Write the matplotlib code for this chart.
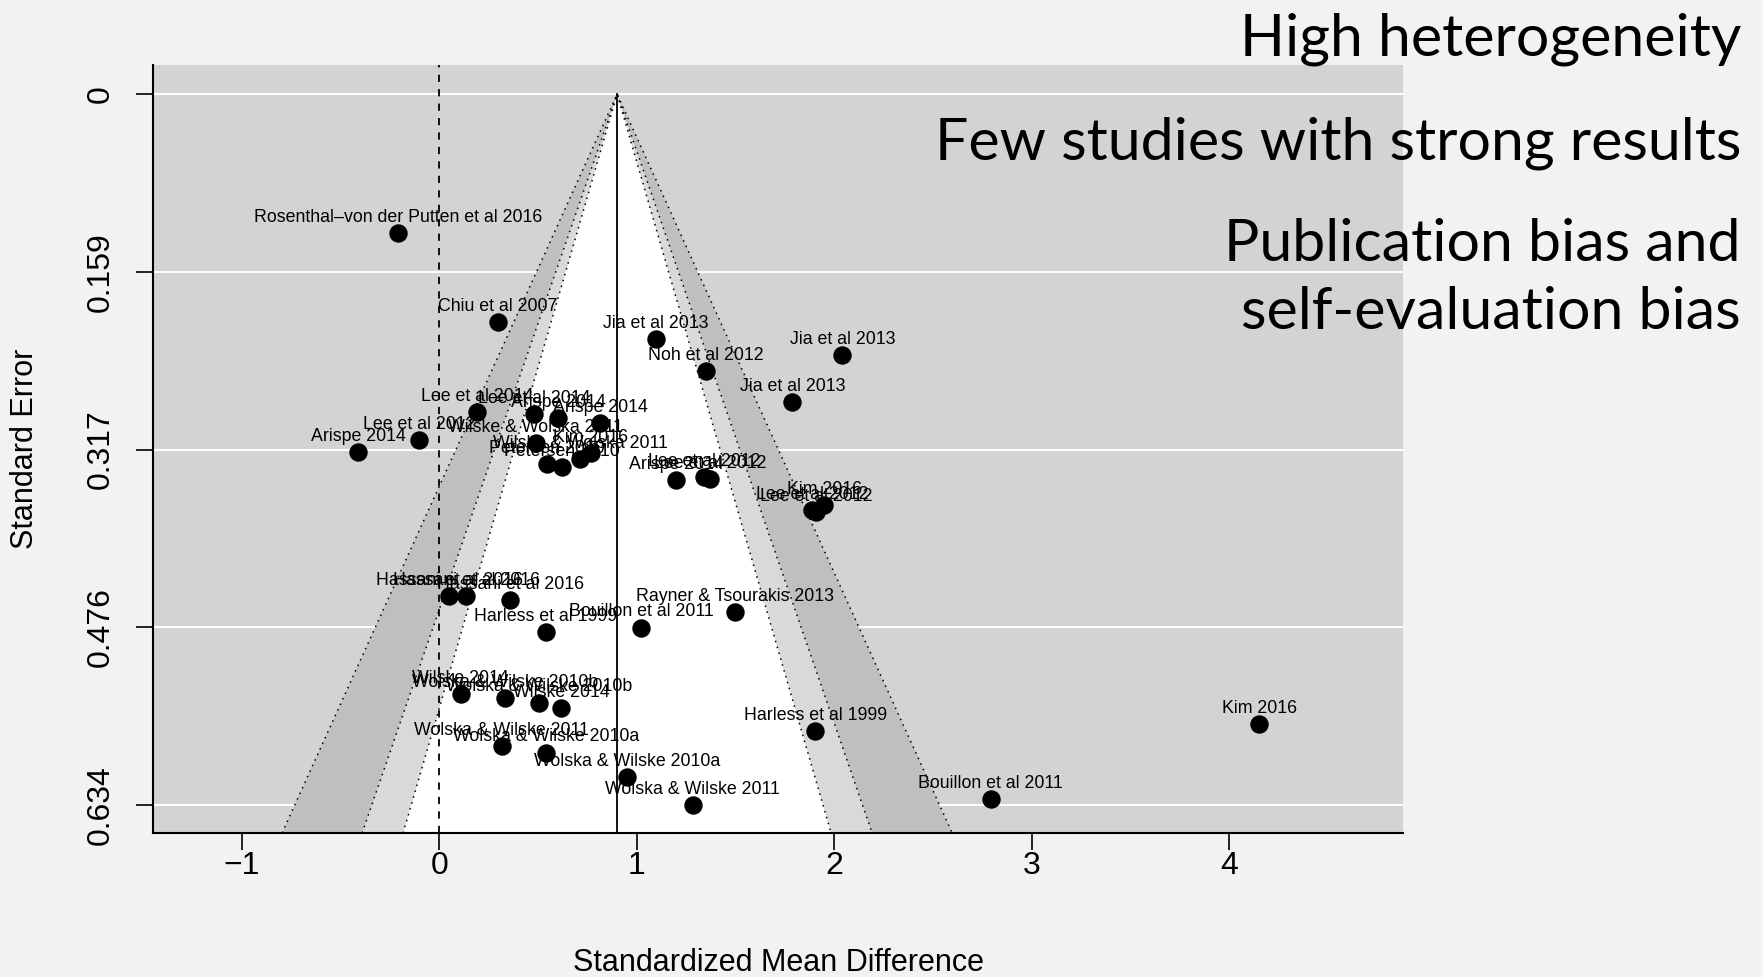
import numpy as np
import matplotlib.pyplot as plt
from matplotlib.transforms import blended_transform_factory

# study labels, standardized mean differences and standard errors
labels = [
    "Rosenthal\u2013von der Putten et al 2016", "Chiu et al 2007",
    "Jia et al 2013", "Jia et al 2013", "Noh et al 2012", "Jia et al 2013",
    "Lee et al 2014", "Lee et al 2012", "Arispe 2014",
    "Lee et al 2014", "Arispe 2014", "Arispe 2014",
    "Wilske & Wolska 2011", "Kim 2016", "Wilske & Wolska 2011",
    "Petersen 2010", "Petersen 2010",
    "Arispe 2014", "Lee et al 2012", "Lee et al 2012",
    "Lee et al 2012", "Lee et al 2012", "Kim 2016",
    "Hassani et al 2016", "Hassani et al 2016", "Hassani et al 2016",
    "Harless et al 1999", "Bouillon et al 2011", "Rayner & Tsourakis 2013",
    "Wilske 2014", "Wolska & Wilske 2010b", "Wolska & Wilske 2010b", "Wilske 2014",
    "Wolska & Wilske 2011", "Wolska & Wilske 2010a", "Wolska & Wilske 2010a",
    "Wolska & Wilske 2011",
    "Harless et al 1999", "Kim 2016", "Bouillon et al 2011",
]
smd = [
    -0.211, 0.295,
    1.096, 2.041, 1.349, 1.788,
    0.189, -0.103, -0.412,
    0.481, 0.602, 0.814,
    0.488, 0.766, 0.712,
    0.544, 0.620,
    1.199, 1.340, 1.371,
    1.886, 1.908, 1.950,
    0.050, 0.135, 0.358,
    0.540, 1.021, 1.499,
    0.108, 0.332, 0.505, 0.616,
    0.316, 0.538, 0.952, 1.283,
    1.904, 4.154, 2.792,
]
se = [
    0.1242, 0.2030,
    0.2187, 0.2327, 0.2470, 0.2744,
    0.2833, 0.3085, 0.3195,
    0.2856, 0.2886, 0.2936,
    0.3115, 0.3198, 0.3257,
    0.3299, 0.3323,
    0.3442, 0.3412, 0.3436,
    0.3709, 0.3724, 0.3665,
    0.4476, 0.4476, 0.4512,
    0.4800, 0.4758, 0.4616,
    0.5353, 0.5383, 0.5427, 0.5472,
    0.5814, 0.5873, 0.6093, 0.6340,
    0.5679, 0.5618, 0.6291,
]
estimate = 0.90
levels = [2.5758, 1.9600, 1.6449]          # 99%, 95%, 90%
shades = ["#bfbfbf", "#d9d9d9", "white"]

se_max = max(se)
yticks = np.linspace(0, se_max, 5)
xticks = [-1, 0, 1, 2, 3, 4]
ylims = (0.659, -0.026)
xlims = (-1.451, 4.881)

notes = ["High heterogeneity", "Few studies with strong results",
         "Publication bias and", "self-evaluation bias"]

plt.rcParams['font.family'] = ['Liberation Sans', 'DejaVu Sans']

fig = plt.figure(figsize=(17.63, 9.77), dpi=100, facecolor="#f2f2f2")
ax = fig.add_axes([0.0868, 0.1474, 0.709, 0.7861])
ax.set_facecolor("lightgray")
ax.set_xlim(*xlims)
ax.set_ylim(*ylims)

for yt in yticks:
    ax.axhline(yt, color="white", lw=1.5, zorder=1)

# funnel regions, outermost first
bot = ylims[0]
for z, col in zip(levels, shades):
    xs = [estimate - z * bot, estimate, estimate + z * bot]
    ys = [bot, 0, bot]
    ax.fill(xs, ys, color=col, lw=0, zorder=2)
for z in levels:
    ax.plot([estimate - z * bot, estimate, estimate + z * bot], [bot, 0, bot],
            color="black", ls=(0, (1, 3)), lw=1.1, zorder=3)

ax.plot([estimate, estimate], [0, bot], color="black", lw=1.3, zorder=3)
ax.axvline(0, color="black", ls=(0, (4, 4)), lw=1.3, zorder=3)

ax.scatter(smd, se, s=150, color="black", zorder=5, clip_on=False)
for lab, x, y in zip(labels, smd, se):
    ax.annotate(lab, (x, y), xytext=(0, 8), textcoords="offset points",
                ha="center", va="baseline", fontsize=12.8, zorder=6)

for side in ["top", "right"]:
    ax.spines[side].set_visible(False)
for side in ["left", "bottom"]:
    ax.spines[side].set_linewidth(1.5)
    ax.spines[side].set_zorder(7)

ax.set_xticks(xticks)
ax.set_xticklabels(["\u22121", "0", "1", "2", "3", "4"])
ax.set_yticks(yticks)
ax.set_yticklabels(["%.3g" % v if v > 0 else "0" for v in yticks],
                   rotation=90, va="center")
ax.tick_params(axis="both", direction="out", length=12, width=1.2,
               labelsize=23)
ax.tick_params(axis="x", pad=1)
ax.tick_params(axis="y", pad=15)

xlab_tr = blended_transform_factory(ax.transAxes, fig.transFigure)
ylab_tr = blended_transform_factory(fig.transFigure, ax.transAxes)
ax.text(0.5, 1 - 963 / 977, "Standardized Mean Difference", transform=xlab_tr,
        ha="center", va="center", fontsize=22)
ax.text(25 / 1763, 0.5, "Standard Error", rotation=90, transform=ylab_tr,
        ha="center", va="center", fontsize=22)

note_y = [56, 160, 261, 329]
for txt, yp in zip(notes, note_y):
    fig.text(1741 / 1763, 1 - yp / 977, txt, ha="right", va="baseline",
             fontsize=42.5, family="Lato", color="black")

fig.savefig("out.png", dpi=100, facecolor=fig.get_facecolor())
